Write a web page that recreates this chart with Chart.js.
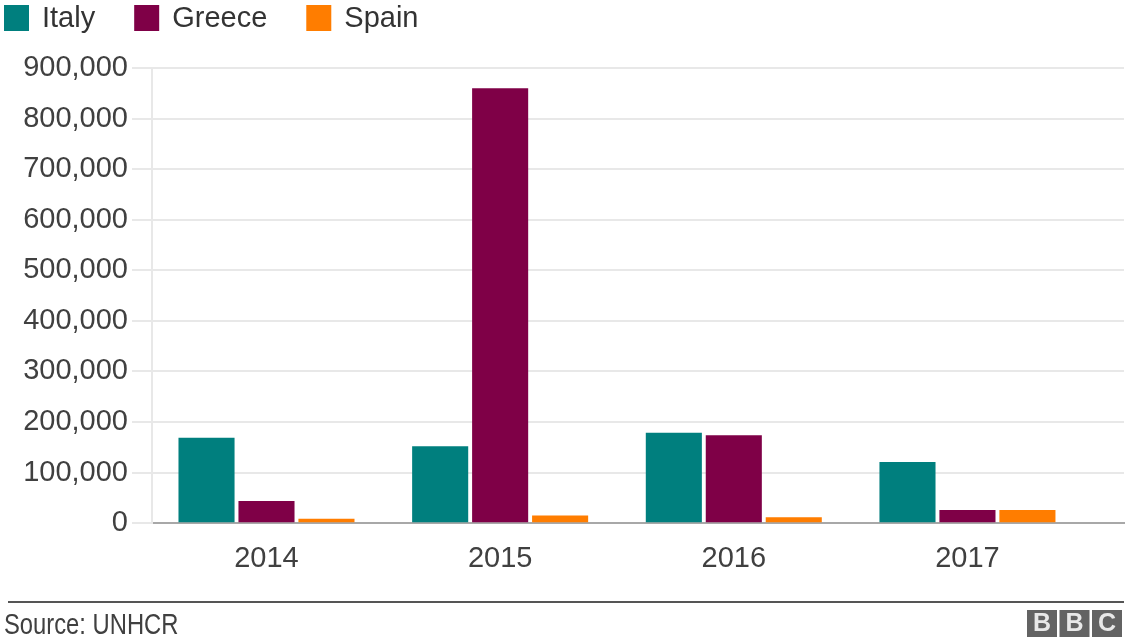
<!DOCTYPE html>
<html>
<head>
<meta charset="utf-8">
<script src="https://cdn.jsdelivr.net/npm/chart.js@4.4.1/dist/chart.umd.min.js"></script>
<style>
  html, body { margin: 0; padding: 0; background: #ffffff; }
  #wrap { width: 1127px; height: 641px; position: relative; }
</style>
</head>
<body>
<div id="wrap"><canvas id="idCanv_arrivals"></canvas></div>
<script>
const years = [2014, 2015, 2016, 2017];
const italyValues = [169000, 152000, 179000, 121000];
const greeceValues = [44000, 860000, 174000, 26000];
const spainValues = [9000, 15000, 12000, 26000];
const seriesNames = ["Italy", "Greece", "Spain"];
const sourceText = "Source: UNHCR";
const logoLetters = ["B", "B", "C"];

const fontFamily = "'Liberation Sans', Arial, Helvetica, sans-serif";
const colors = {
  italy: "#007f7e",
  greece: "#7f0047",
  spain: "#ff7d00",
  text: "#404040",
  grid: "#e8e8e8",
  base: "#a8a8a8",
};

// legend drawn top-left, like the BBC graphic
const legendPlugin = {
  id: "topLegend",
  afterDraw(chart) {
    const ctx = chart.ctx;
    ctx.save();
    ctx.font = `29px ${fontFamily}`;
    ctx.textBaseline = "middle";
    let x = 4;
    chart.data.datasets.forEach((ds) => {
      ctx.fillStyle = ds.backgroundColor;
      ctx.fillRect(x, 5, 25, 26);
      ctx.fillStyle = "#333333";
      ctx.fillText(ds.label, x + 38, 19);
      x += 38 + ctx.measureText(ds.label).width + 39;
    });
    ctx.restore();
  },
};

const footerPlugin = {
  id: "footer",
  afterDraw(chart) {
    const ctx = chart.ctx;
    ctx.save();
    ctx.fillStyle = "#555555";
    ctx.fillRect(8, 601, 1116, 2);
    // narrow look for the source line
    ctx.save();
    ctx.scale(0.82, 1);
    ctx.font = `29px ${fontFamily}`;
    ctx.fillStyle = colors.text;
    ctx.textBaseline = "alphabetic";
    ctx.fillText(sourceText, 4 / 0.82, 634);
    ctx.restore();
    ctx.font = `bold 25px ${fontFamily}`;
    ctx.textAlign = "center";
    ctx.textBaseline = "middle";
    logoLetters.forEach((letter, i) => {
      const bx = 1027 + i * 32.5;
      ctx.fillStyle = "#636363";
      ctx.fillRect(bx, 610, 30, 27);
      ctx.fillStyle = "#e8e8e8";
      ctx.fillText(letter, bx + 15, 624.5);
    });
    ctx.restore();
  },
};

const arrivalsChart = {
  config: {
    type: "bar",
    data: {
      labels: years,
      datasets: [
        { label: seriesNames[0], data: italyValues, backgroundColor: colors.italy },
        { label: seriesNames[1], data: greeceValues, backgroundColor: colors.greece },
        { label: seriesNames[2], data: spainValues, backgroundColor: colors.spain },
      ],
    },
    options: {
      responsive: true,
      maintainAspectRatio: false,
      animation: false,
      categoryPercentage: 0.77,
      barPercentage: 0.935,
      layout: {
        padding: { top: 68, left: 0, right: 3, bottom: 47 },
      },
      plugins: {
        legend: { display: false },
        tooltip: { enabled: false },
      },
      scales: {
        x: {
          type: "linear",
          offset: false,
          min: 2013.51,
          max: 2017.67,
          ticks: {
            stepSize: 1,
            includeBounds: false,
            maxRotation: 0,
            padding: 18,
            color: colors.text,
            font: { size: 29, family: fontFamily },
            callback: (v) => String(v),
          },
          grid: { display: false, drawTicks: false },
          border: { color: colors.base, width: 2 },
        },
        y: {
          min: 0,
          max: 900000,
          ticks: {
            stepSize: 100000,
            padding: 4,
            color: colors.text,
            font: { size: 29, family: fontFamily },
            callback: (v) => v.toLocaleString("en-US"),
          },
          grid: { color: colors.grid, lineWidth: 2, tickLength: 20 },
          border: { color: colors.grid, width: 2 },
          afterFit(scale) {
            scale.width = 152;
          },
        },
      },
    },
    plugins: [legendPlugin, footerPlugin],
  },
  canvas: null,
};

arrivalsChart.canvas = new Chart(document.getElementById("idCanv_arrivals"), arrivalsChart.config);
</script>
</body>
</html>
